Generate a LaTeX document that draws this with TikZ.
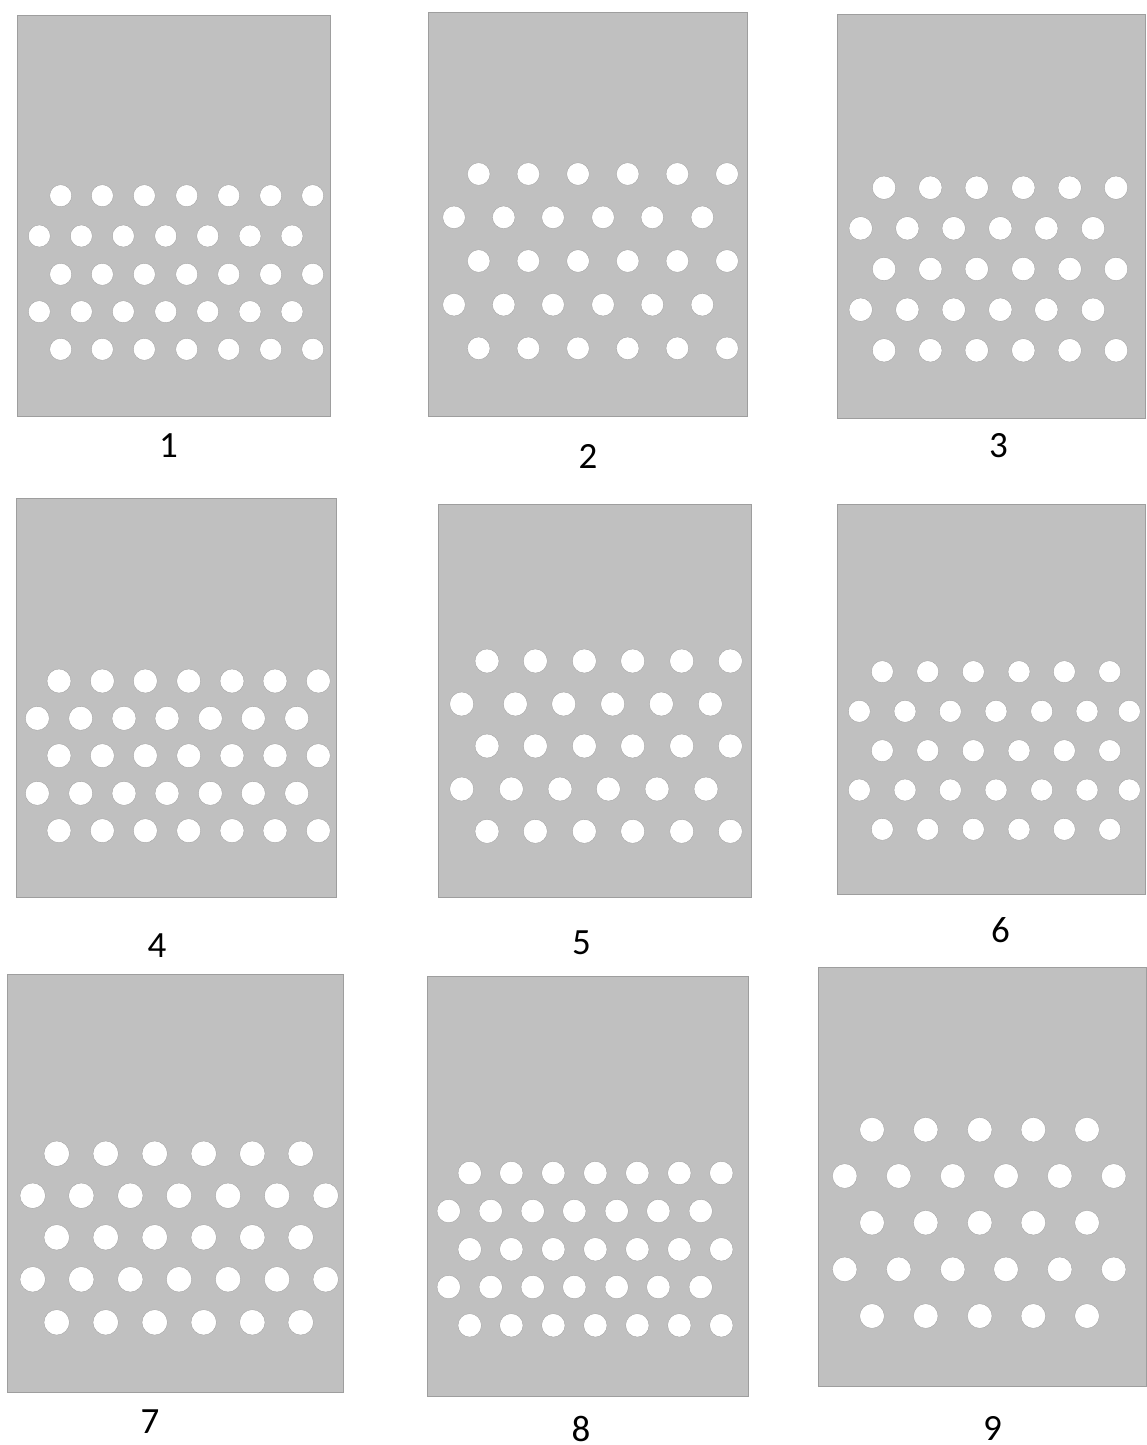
\documentclass[tikz,border=0pt]{standalone}
\usepackage{fontspec}
\setmainfont{Carlito}
\definecolor{panelgray}{RGB}{192,192,192}
\definecolor{edgegray}{RGB}{158,158,158}
\begin{document}
\begin{tikzpicture}[x=1pt,y=-1pt,
  panel/.style={fill=panelgray,draw=edgegray,line width=0.9pt},
  hole/.style={fill=white,draw=black!40,line width=0.3pt},
  lbl/.style={font=\fontsize{37}{42}\selectfont,inner sep=0pt,text=black}]
\useasboundingbox[fill=white] (0,0) rectangle (1147,1445);

% ---------- Panel 1 ----------
\draw[panel] (17,15) rectangle (330,416);
\foreach \y in {195.7,274.3,349.3}
  \foreach \x in {60.7,102.3,144.3,186.7,228.7,270.7,312.7}
    \draw[hole] (\x,\y) circle (11pt);
\foreach \y in {236,311.7}
  \foreach \x in {39.3,81.3,123.3,165.7,207.7,250,292}
    \draw[hole] (\x,\y) circle (11pt);
\node[lbl] (lab1) at (168.5,446) {1};

% ---------- Panel 2 ----------
\draw[panel] (428,12) rectangle (747,416);
\foreach \y in {174,261,348.3}
  \foreach \x in {478.7,528.3,578,627.7,677.3,727}
    \draw[hole] (\x,\y) circle (11.3pt);
\foreach \y in {217.3,304.7}
  \foreach \x in {454,503.7,553,603,652.3,702.3}
    \draw[hole] (\x,\y) circle (11.3pt);
\node[lbl] (lab2) at (588,456.5) {2};

% ---------- Panel 3 ----------
\draw[panel] (837,14) rectangle (1145,418);
\foreach \y in {187.7,269,350.3}
  \foreach \x in {884,930.3,976.7,1023.3,1069.7,1116}
    \draw[hole] (\x,\y) circle (11.7pt);
\foreach \y in {228.3,309.7}
  \foreach \x in {860.7,907.3,953.7,1000.3,1046.3,1093}
    \draw[hole] (\x,\y) circle (11.7pt);
\node[lbl] (lab3) at (998.5,446) {3};

% ---------- Panel 4 ----------
\draw[panel] (16,498) rectangle (336,897);
\foreach \y in {681,755.7,830.7}
  \foreach \x in {59,102.3,145.3,188.7,232,275,318.3}
    \draw[hole] (\x,\y) circle (12pt);
\foreach \y in {718.3,793.3}
  \foreach \x in {37.3,80.7,124,167,210.3,253.3,296.7}
    \draw[hole] (\x,\y) circle (12pt);
\node[lbl] (lab4) at (157,946) {4};

% ---------- Panel 5 ----------
\draw[panel] (438,504) rectangle (751,897);
\foreach \y in {661,746,831.3}
  \foreach \x in {487,535.3,584.3,632.7,681.7,730.3}
    \draw[hole] (\x,\y) circle (12pt);
\foreach \x in {461.7,515.3,563.7,612.7,661.3,710.3}
  \draw[hole] (\x,704) circle (12pt);
\foreach \x in {461.7,511.3,560,608.3,657,706}
  \draw[hole] (\x,789) circle (12pt);
\node[lbl] (lab5) at (581.5,943) {5};

% ---------- Panel 6 ----------
\draw[panel] (837,504) rectangle (1145,894);
\foreach \y in {671.7,750.7,829.3}
  \foreach \x in {882.3,927.7,973.3,1019,1064.3,1109.7}
    \draw[hole] (\x,\y) circle (11pt);
\foreach \y in {711.3,790}
  \foreach \x in {859.3,905,950.3,996,1041.7,1087,1129.3}
    \draw[hole] (\x,\y) circle (11pt);
\node[lbl] (lab6) at (1000.5,930.5) {6};

% ---------- Panel 7 ----------
\draw[panel] (7,974) rectangle (343,1392);
\foreach \y in {1153.7,1237.3,1322.3}
  \foreach \x in {56.7,105.7,154.7,203.7,252.3,300.7}
    \draw[hole] (\x,\y) circle (12.7pt);
\foreach \y in {1195.7,1279.3}
  \foreach \x in {32.7,81.3,130.3,179,228,277,325.7}
    \draw[hole] (\x,\y) circle (12.7pt);
\node[lbl] (lab7) at (150,1421.5) {7};

% ---------- Panel 8 ----------
\draw[panel] (427,976) rectangle (748,1396);
\foreach \y in {1173,1249.3,1325.3}
  \foreach \x in {469.7,511.3,553.3,595.3,637.3,679.3,721.3}
    \draw[hole] (\x,\y) circle (11.7pt);
\foreach \y in {1211,1287}
  \foreach \x in {448.7,490.7,532.7,574.3,616.7,658.3,700.7}
    \draw[hole] (\x,\y) circle (11.7pt);
\node[lbl] (lab8) at (581,1428.5) {8};

% ---------- Panel 9 ----------
\draw[panel] (818,967) rectangle (1146,1386);
\foreach \y in {1129.7,1222.7,1316}
  \foreach \x in {872,925.7,979.7,1033.3,1087}
    \draw[hole] (\x,\y) circle (12.3pt);
\foreach \y in {1176,1269.3}
  \foreach \x in {844.7,898.7,952.7,1006,1059.7,1113.7}
    \draw[hole] (\x,\y) circle (12.3pt);
\node[lbl] (lab9) at (992.5,1428.5) {9};
\end{tikzpicture}
\end{document}
